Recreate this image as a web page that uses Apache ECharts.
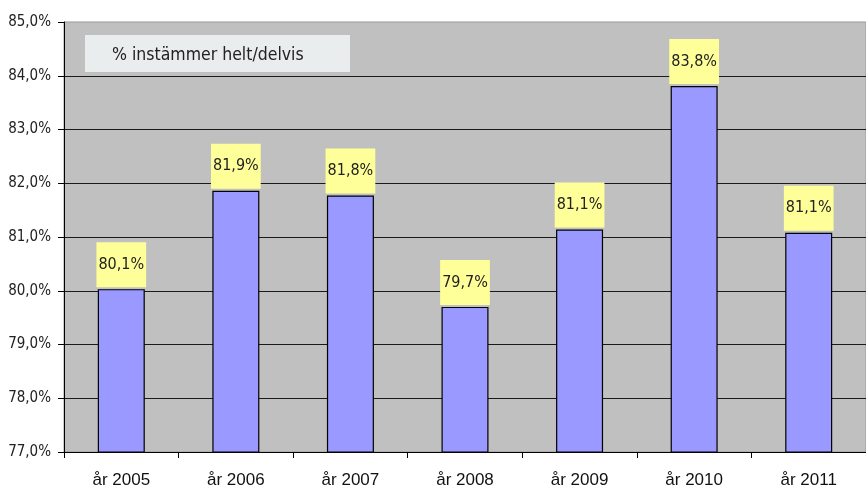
<!DOCTYPE html>
<html><head><meta charset="utf-8">
<script src="https://cdn.jsdelivr.net/npm/echarts@6/dist/echarts.min.js"></script>
<style>html,body{margin:0;padding:0;background:#fff}#c{width:866px;height:492px}</style>
</head><body><div id="c"></div>
<script>
const categories = ["år 2005","år 2006","år 2007","år 2008","år 2009","år 2010","år 2011"];
const values = [80.03, 81.86, 81.77, 79.70, 81.14, 83.81, 81.08];
const valueLabels = ["80,1%","81,9%","81,8%","79,7%","81,1%","83,8%","81,1%"];
const seriesName = "% instämmer helt/delvis";
const yMin = 77, yMax = 85, yStep = 1;

const narrow = "'DejaVu Sans Condensed', 'Liberation Sans Narrow', sans-serif";
const chart = echarts.init(document.getElementById('c'));
chart.setOption({
  animation: false,
  backgroundColor: '#ffffff',
  grid: { left: 64, top: 22, right: -6, bottom: 40, show: true, backgroundColor: '#c0c0c0', borderColor: '#999999', borderWidth: 1 },
  xAxis: {
    type: 'category', data: categories, boundaryGap: true,
    axisLine: { lineStyle: { color: '#000', width: 1 } },
    axisTick: { show: true, interval: 0, length: 6, lineStyle: { color: '#000' } },
    axisLabel: { color: '#111', fontFamily: "'Liberation Sans', Arial, sans-serif", fontSize: 17, margin: 20 }
  },
  yAxis: {
    type: 'value', min: yMin, max: yMax, interval: yStep,
    axisLine: { show: true, lineStyle: { color: '#000', width: 1 } },
    axisTick: { show: true, inside: false, length: 6, lineStyle: { color: '#000' } },
    splitLine: { show: true, showMaxLine: false, lineStyle: { color: '#1a1a1a', width: 1 } },
    axisLabel: { color: '#222', fontFamily: narrow, fontStyle: 'normal', fontWeight: 'condensed', fontSize: 15, margin: 13,
      formatter: v => v.toFixed(1).replace('.', ',') + '%' }
  },
  graphic: [
    { type: 'rect', left: 85, top: 35, shape: { width: 265, height: 37 }, style: { fill: '#e9eded' }, z: 10 },
    { type: 'text', left: 112, top: 46, style: { text: seriesName, fill: '#222', fontFamily: narrow, fontStyle: 'normal', fontWeight: 'condensed', fontSize: 17.5 }, z: 11 }
  ],
  series: [{
    type: 'bar', name: seriesName, data: values, barWidth: 47,
    itemStyle: { color: '#9999ff', borderColor: '#000', borderWidth: 1.2 },
    label: {
      show: true, position: 'top', distance: 2,
      formatter: p => valueLabels[p.dataIndex],
      backgroundColor: '#ffff99', padding: [14, 2, 14, 2],
      color: '#222', fontFamily: narrow, fontStyle: 'normal', fontWeight: 'condensed', fontSize: 16, lineHeight: 17
    }
  }]
});
</script></body></html>
